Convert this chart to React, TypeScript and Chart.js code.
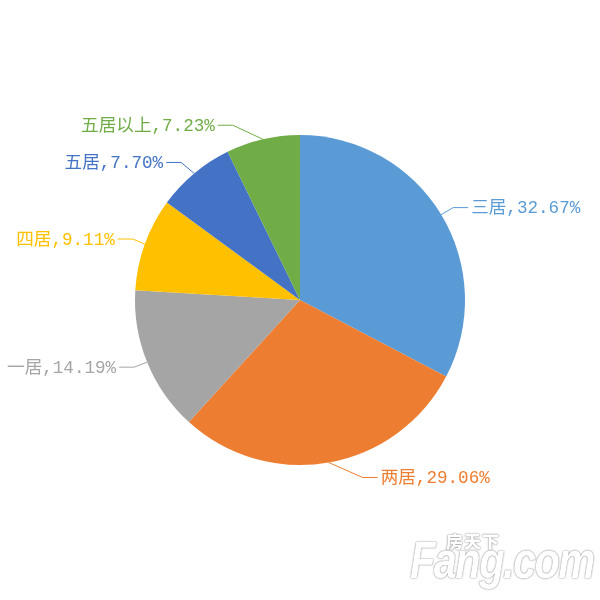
import React, { useEffect, useRef } from "react";
import { Chart, registerables } from "chart.js";

Chart.register(...registerables);

const categories = ["三居", "两居", "一居", "四居", "五居", "五居以上"];
const shares = [32.67, 29.06, 14.19, 9.11, 7.7, 7.23];
const colors = ["#5B9BD5", "#ED7D31", "#A5A5A5", "#FFC000", "#4472C4", "#70AD47"];

// leader-line elbow offsets relative to each slice's outer mid-point (layout only)
const elbowOffsets: [number, number][] = [
  [12, -7],
  [34, 15],
  [-13, 5],
  [-12, -5],
  [-13, -11],
  [-30, -14],
];
const leaderHorizontal = 15;
const labelFont = '17.6px "Liberation Mono", "Noto Sans CJK SC", monospace';

const leaderLabels = {
  id: "leaderLabels",
  afterDraw(chart: any) {
    const ctx = chart.ctx;
    const meta = chart.getDatasetMeta(0);
    ctx.save();
    ctx.font = labelFont;
    ctx.textBaseline = "middle";
    meta.data.forEach((arc: any, i: number) => {
      const p = arc.getProps(["x", "y", "startAngle", "endAngle", "outerRadius"], true);
      const mid = (p.startAngle + p.endAngle) / 2;
      const ex = p.x + Math.cos(mid) * p.outerRadius;
      const ey = p.y + Math.sin(mid) * p.outerRadius;
      const [dx, dy] = elbowOffsets[i];
      const bx = ex + dx;
      const by = ey + dy;
      const right = dx > 0;
      const hx = bx + (right ? leaderHorizontal : -leaderHorizontal);
      ctx.strokeStyle = colors[i];
      ctx.lineWidth = 1;
      ctx.beginPath();
      ctx.moveTo(ex, ey);
      ctx.lineTo(bx, by);
      ctx.lineTo(hx, by);
      ctx.stroke();
      ctx.fillStyle = colors[i];
      ctx.textAlign = right ? "left" : "right";
      const text = `${categories[i]},${shares[i].toFixed(2)}%`;
      ctx.fillText(text, hx + (right ? 3 : -3), by + 1);
    });
    ctx.restore();
  },
};

export default function App() {
  const ref = useRef<HTMLCanvasElement>(null);
  useEffect(() => {
    if (!ref.current) return;
    const chart = new Chart(ref.current, {
      type: "pie",
      data: {
        labels: categories,
        datasets: [
          {
            data: shares,
            backgroundColor: colors,
            borderWidth: 0,
          },
        ],
      },
      options: {
        responsive: false,
        animation: false,
        devicePixelRatio: 1,
        layout: { padding: 135 },
        plugins: {
          legend: { display: false },
          tooltip: { enabled: false },
        },
      },
      plugins: [leaderLabels],
    });
    return () => chart.destroy();
  }, []);
  return (
    <div
      style={{
        position: "fixed",
        left: 0,
        top: 0,
        width: 600,
        height: 600,
        background: "#fff",
        overflow: "hidden",
      }}
    >
      <canvas ref={ref} width={600} height={600} style={{ width: 600, height: 600 }} />
      <div
        style={{
          position: "absolute",
          left: 446,
          top: 532,
          fontFamily: '"Noto Sans CJK SC", sans-serif',
          fontWeight: 900,
          fontSize: 17,
          lineHeight: "17px",
          color: "#fff",
          textShadow: "0 0 2px #888, 0 0 1px #999",
          letterSpacing: 1,
        }}
      >
        房天下
      </div>
      <div
        style={{
          position: "absolute",
          left: 410,
          top: 534,
          fontFamily: '"Liberation Sans", Arial, sans-serif',
          fontWeight: 700,
          fontStyle: "italic",
          fontSize: 52,
          lineHeight: "52px",
          color: "#fff",
          textShadow: "0 0 2px #888, 0 0 1px #999",
          transform: "scaleX(0.8)",
          transformOrigin: "left top",
          letterSpacing: -2,
        }}
      >
        Fang.com
      </div>
    </div>
  );
}
